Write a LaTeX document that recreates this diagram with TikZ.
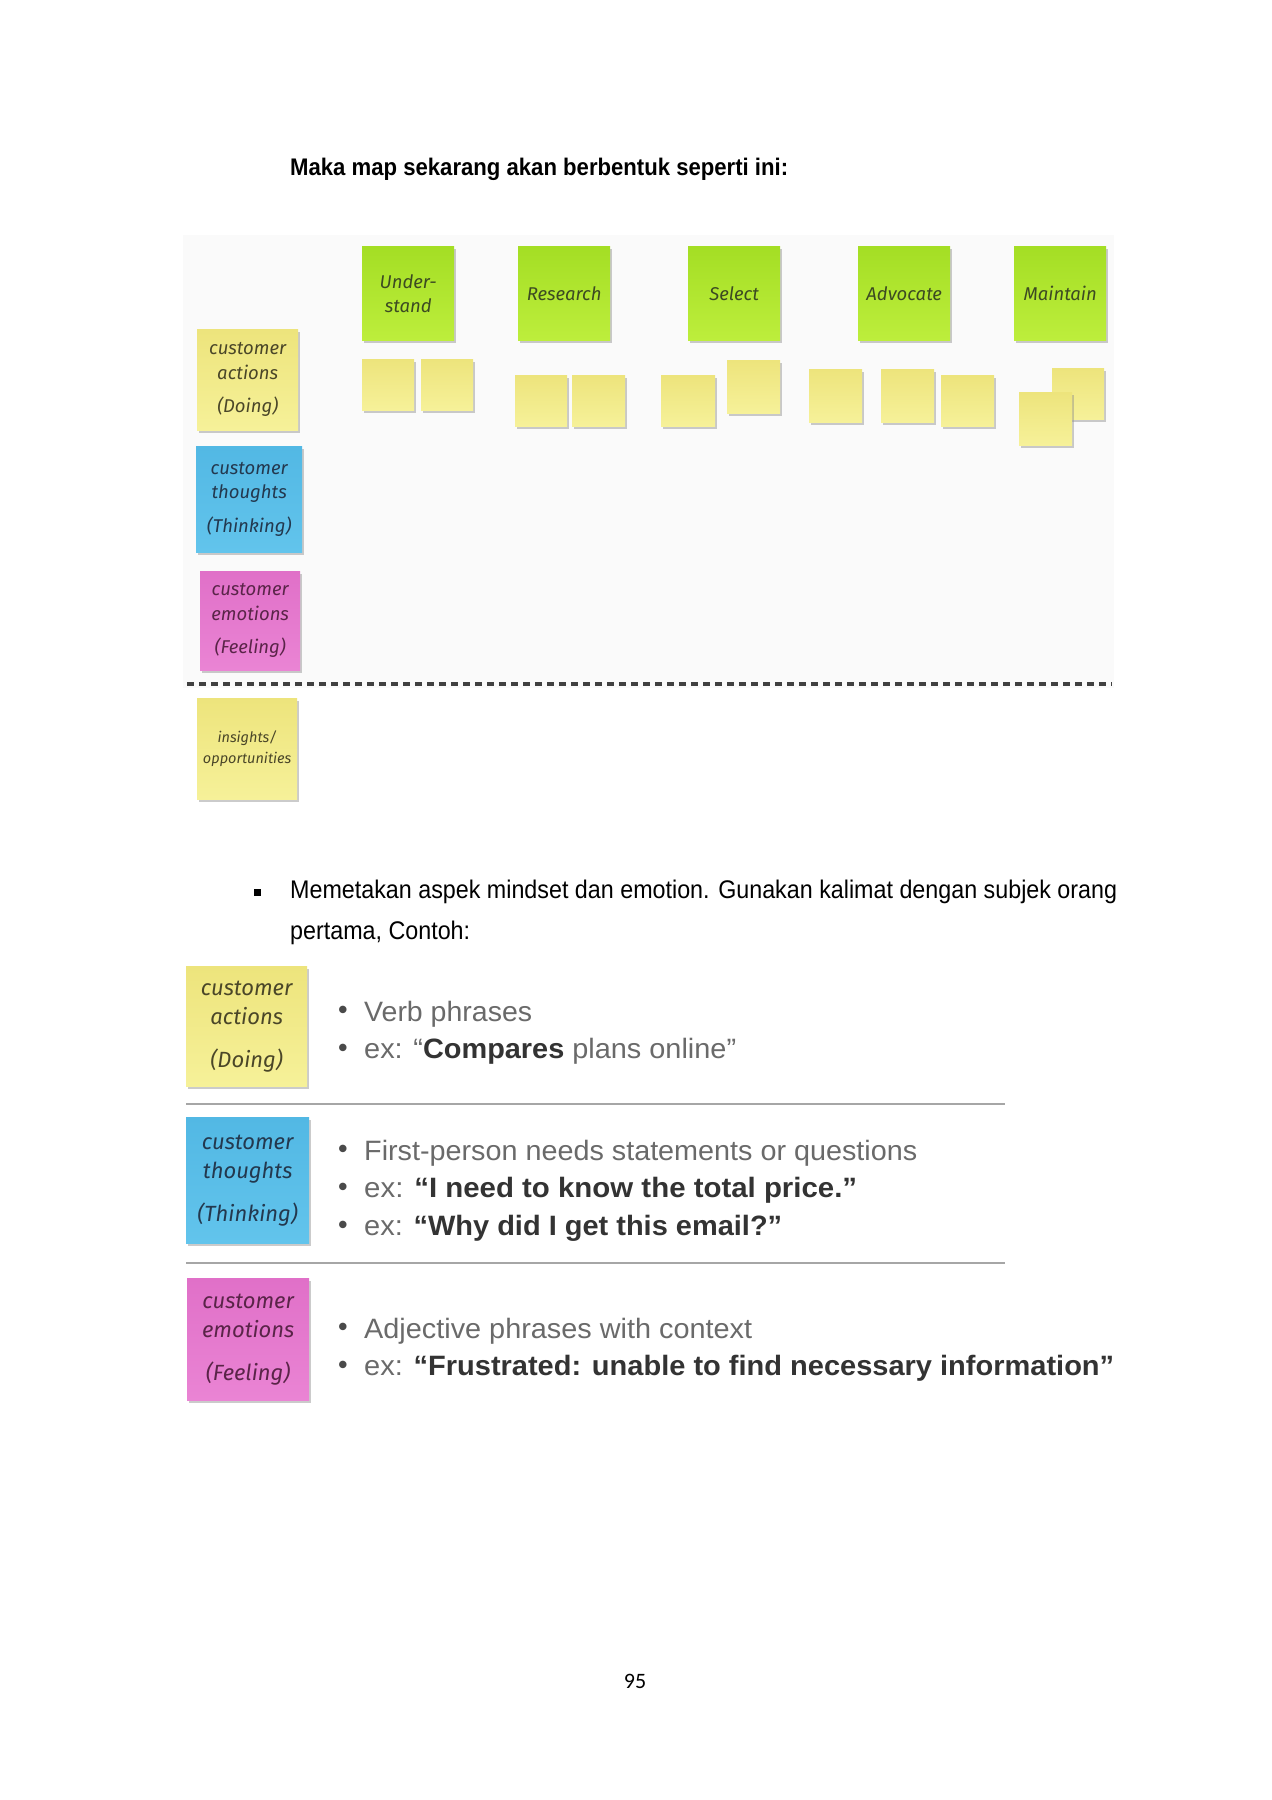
\documentclass[tikz,border=0pt]{standalone}
\usepackage{fontspec}
\usepackage{graphicx}
\setmainfont{Liberation Sans}
\newfontfamily\hand{Fira Sans}
\newfontfamily\pagefont{Carlito}
\usetikzlibrary{shadows}
\definecolor{greenA}{HTML}{A4DE24}
\definecolor{greenB}{HTML}{BDEE3C}
\definecolor{yelA}{HTML}{EDE47C}
\definecolor{yelB}{HTML}{F6F199}
\definecolor{blueA}{HTML}{52B8E4}
\definecolor{blueB}{HTML}{62C4EC}
\definecolor{pinkA}{HTML}{E070C8}
\definecolor{pinkB}{HTML}{EA84D4}
\definecolor{greentxt}{HTML}{3C4A22}
\definecolor{yeltxt}{HTML}{4A4628}
\definecolor{bluetxt}{HTML}{23384E}
\definecolor{pinktxt}{HTML}{5A2448}
\definecolor{lighttxt}{HTML}{6A6A6A}
\definecolor{bultxt}{HTML}{4A4A4A}
\definecolor{boldtxt}{HTML}{333333}
\definecolor{mapbg}{HTML}{FAFAFA}
\newcommand{\fitw}[2]{\resizebox{#1}{\height}{#2}}
\tikzset{
  note/.style={inner sep=0pt, align=center, anchor=north west,
    drop shadow={shadow xshift=2pt, shadow yshift=-2.5pt, fill=black!45, opacity=0.45}},
  gnote/.style={note, top color=greenA, bottom color=greenB, text=greentxt,
    font=\hand\itshape\fontsize{18.5}{24}\selectfont},
  ynote/.style={note, top color=yelA, bottom color=yelB, text=yeltxt},
  bnote/.style={note, top color=blueA, bottom color=blueB, text=bluetxt},
  pnote/.style={note, top color=pinkA, bottom color=pinkB, text=pinktxt},
  small/.style={font=\hand\itshape\fontsize{18.5}{24.5}\selectfont},
  big/.style={font=\hand\itshape\fontsize{22}{29}\selectfont},
  txt/.style={anchor=west, inner sep=0pt, text=lighttxt, font=\fontsize{28}{32}\selectfont},
  bul/.style={inner sep=0pt, text=bultxt, font=\bfseries\fontsize{26}{28}\selectfont},
  para/.style={anchor=west, inner sep=0pt, text=black, font=\fontsize{25.5}{28}\selectfont},
  sep/.style={draw=black!35, line width=1.2pt}
}
\begin{document}
\begin{tikzpicture}[x=1pt,y=-1pt]
\useasboundingbox (0,0) rectangle (1272,1800);
\fill[white] (0,0) rectangle (1272,1800);

% title
\node[anchor=west, inner sep=0pt] (title) at (290,169)
  {\fitw{498pt}{\fontsize{24}{28}\selectfont\bfseries Maka map sekarang akan berbentuk seperti ini:}};

% map background
\fill[mapbg] (183,235) rectangle (1114,688);

% stage notes
\node[gnote, minimum width=92pt, minimum height=94pt] (under) at (362,246) {Under-\\stand};
\node[gnote, minimum width=92pt, minimum height=94pt] (research) at (518,246) {Research};
\node[gnote, minimum width=92pt, minimum height=94pt] (select) at (688,246) {Select};
\node[gnote, minimum width=92pt, minimum height=94pt] (advocate) at (858,246) {Advocate};
\node[gnote, minimum width=92pt, minimum height=94pt] (maintain) at (1014,246) {Maintain};

% small yellow notes
\node[ynote, minimum width=52pt, minimum height=51pt] (y1) at (362,359) {};
\node[ynote, minimum width=52pt, minimum height=51pt] (y2) at (421,359) {};
\node[ynote, minimum width=52pt, minimum height=51pt] (y3) at (515,375) {};
\node[ynote, minimum width=53pt, minimum height=51pt] (y4) at (572,375) {};
\node[ynote, minimum width=54pt, minimum height=51pt] (y5) at (661,375) {};
\node[ynote, minimum width=53pt, minimum height=53pt] (y6) at (727,360) {};
\node[ynote, minimum width=53pt, minimum height=53pt] (y7) at (809,369) {};
\node[ynote, minimum width=53pt, minimum height=53pt] (y8) at (881,369) {};
\node[ynote, minimum width=53pt, minimum height=51pt] (y9) at (941,375) {};
\node[ynote, minimum width=52pt, minimum height=51pt] (y10) at (1052,368) {};
\node[ynote, minimum width=53pt, minimum height=53pt] (y11) at (1019,392) {};

% row labels
\node[ynote, small, minimum width=101pt, minimum height=101pt] (actions) at (197,329)
  {customer\\actions\\[9pt](Doing)};
\node[bnote, small, minimum width=106pt, minimum height=106pt] (thoughts) at (196,446)
  {customer\\thoughts\\[9pt](Thinking)};
\node[pnote, small, minimum width=100pt, minimum height=99pt] (emotions) at (200,571)
  {customer\\emotions\\[9pt](Feeling)};

\coordinate (dl) at (187,684);
\coordinate (dr) at (1112,684);
\draw[black!75, line width=3.5pt, dash pattern=on 7pt off 5pt] (dl) -- (dr);

\node[ynote, font=\hand\itshape\fontsize{14.5}{21}\selectfont, minimum width=100pt, minimum height=101pt] (insights) at (197,698)
  {insights/\\opportunities};

% paragraph
\fill (253.5,888.5) rectangle (260.5,895.5);
\node[para] (p1) at (290,892) {\fitw{827pt}{Memetakan aspek mindset dan emotion. Gunakan kalimat dengan subjek orang}};
\node[para] (p2) at (290,933) {\fitw{180pt}{pertama, Contoh:}};

% examples
\node[ynote, big, minimum width=121pt, minimum height=120pt] (actions2) at (186,966)
  {customer\\actions\\[14pt](Doing)};
\node[bul] (b1) at (343,1012) {•};
\node[txt] (t1) at (364,1014) {\fitw{168pt}{Verb phrases}};
\node[bul] (b2) at (343,1050) {•};
\node[txt] (t2) at (364,1051) {\fitw{372pt}{ex: “\textcolor{boldtxt}{\bfseries Compares} plans online”}};
\coordinate (s1l) at (186,1104);
\coordinate (s1r) at (1005,1104);
\draw[sep] (s1l) -- (s1r);

\node[bnote, big, minimum width=123pt, minimum height=126pt] (thoughts2) at (186,1117)
  {customer\\thoughts\\[14pt](Thinking)};
\node[bul] (b3) at (343,1151) {•};
\node[txt] (t3) at (364,1153) {\fitw{553pt}{First-person needs statements or questions}};
\node[bul] (b4) at (343,1189) {•};
\node[txt] (t4) at (364,1190) {\fitw{493pt}{ex: \textcolor{boldtxt}{\bfseries “I need to know the total price.”}}};
\node[bul] (b5) at (343,1227) {•};
\node[txt] (t5) at (364,1228) {\fitw{418pt}{ex: \textcolor{boldtxt}{\bfseries “Why did I get this email?”}}};
\coordinate (s2l) at (186,1263);
\coordinate (s2r) at (1005,1263);
\draw[sep] (s2l) -- (s2r);

\node[pnote, big, minimum width=122pt, minimum height=122pt] (emotions2) at (187,1278)
  {customer\\emotions\\[14pt](Feeling)};
\node[bul] (b6) at (343,1329) {•};
\node[txt] (t6) at (364,1331) {\fitw{388pt}{Adjective phrases with context}};
\node[bul] (b7) at (343,1367) {•};
\node[txt] (t7) at (364,1368) {\fitw{750pt}{ex: \textcolor{boldtxt}{\bfseries “Frustrated: unable to find necessary information”}}};

\node[inner sep=0pt, font=\pagefont\fontsize{22}{26}\selectfont] (page) at (635,1681) {95};
\end{tikzpicture}
\end{document}
